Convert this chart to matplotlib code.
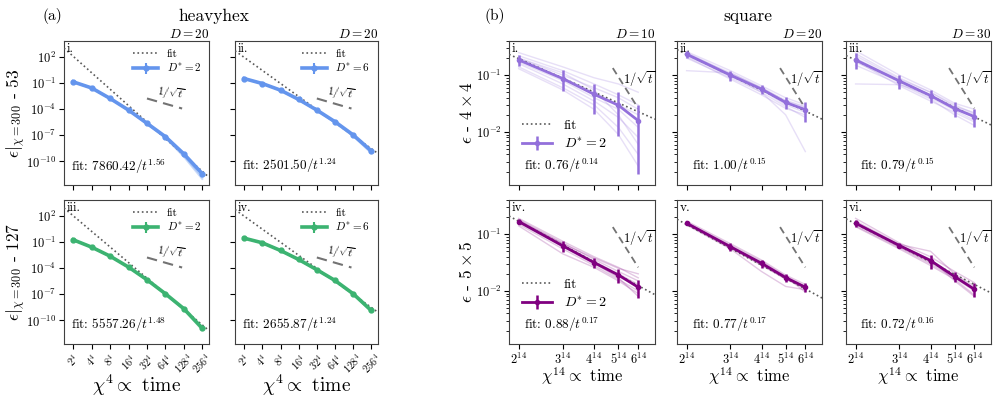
import numpy as np
import matplotlib.pyplot as plt
from matplotlib.ticker import FixedLocator, NullLocator, NullFormatter, LogLocator

plt.rcParams['font.family'] = 'serif'
plt.rcParams['font.serif'] = ['cmr10']
plt.rcParams['mathtext.fontset'] = 'cm'
plt.rcParams['axes.formatter.use_mathtext'] = True
plt.rcParams['axes.edgecolor'] = '0.25'

# ---- heavyhex data (log10 of error) ----
chi_hh = [2, 4, 8, 16, 32, 64, 128, 256]
hh_tick_labels = [r'$2^4$', r'$4^4$', r'$8^4$', r'$16^4$', r'$32^4$', r'$64^4$', r'$128^4$', r'$256^4$']

hh53_D2 = [-0.9, -1.6, -2.8, -4.13, -5.64, -7.17, -9.14, -11.4]
hh53_D6 = [-0.52, -1.09, -1.85, -2.91, -4.13, -5.46, -6.97, -8.8]
hh127_D2 = [-0.78, -1.62, -2.65, -3.9, -5.35, -6.95, -8.66, -10.88]
hh127_D6 = [-0.59, -1.12, -2.0, -3.03, -4.2, -5.43, -6.95, -8.86]

# a few individual runs (faint)
hh53_D2_runs = [[-0.9, -1.6, -2.8, -4.13, -5.66, -7.22, -9.3, -11.75],
                [-0.9, -1.6, -2.81, -4.15, -5.7, -7.3, -9.45, -12.0]]
hh53_D6_runs = [[-0.52, -1.09, -1.85, -2.92, -4.15, -5.5, -7.05, -8.95],
                [-0.52, -1.09, -1.86, -2.93, -4.17, -5.53, -7.1, -9.05]]
hh127_D2_runs = [[-0.78, -1.62, -2.65, -3.91, -5.37, -6.98, -8.72, -11.0],
                 [-0.78, -1.62, -2.66, -3.92, -5.38, -7.0, -8.76, -11.1]]
hh127_D6_runs = [[-0.59, -1.12, -2.0, -3.04, -4.22, -5.46, -7.0, -8.95],
                 [-0.59, -1.12, -2.01, -3.05, -4.23, -5.48, -7.03, -9.02]]

hh_fit_A = [7860.42, 2501.50, 5557.26, 2655.87]
hh_fit_b = [1.56, 1.24, 1.48, 1.24]

# ---- square data ----
chi_sq = [2, 3, 4, 5, 6]
sq_tick_labels = [r'$2^{14}$', r'$3^{14}$', r'$4^{14}$', r'$5^{14}$', r'$6^{14}$']

sq4_D10 = [0.186, 0.087, 0.046, 0.0295, 0.0158]
sq4_D10_err = [0.04, 0.034, 0.025, 0.021, 0.014]
sq4_D20 = [0.234, 0.100, 0.0567, 0.033, 0.0247]
sq4_D20_err = [0.03, 0.02, 0.01, 0.008, 0.0095]
sq4_D30 = [0.186, 0.079, 0.0437, 0.0258, 0.0186]
sq4_D30_err = [0.058, 0.023, 0.012, 0.0075, 0.0064]
sq5_D10 = [0.167, 0.0622, 0.0316, 0.0191, 0.0116]
sq5_D10_err = [0.015, 0.014, 0.0064, 0.0055, 0.0041]
sq5_D20 = [0.156, 0.060, 0.0307, 0.0172, 0.0116]
sq5_D20_err = [0.01, 0.009, 0.005, 0.0028, 0.002]
sq5_D30 = [0.156, 0.063, 0.0343, 0.0179, 0.0107]
sq5_D30_err = [0.02, 0.006, 0.0095, 0.0035, 0.003]

sq4_D10_runs = [[0.25, 0.14, 0.09, 0.07, 0.05],
                [0.22, 0.12, 0.07, 0.045, 0.03],
                [0.20, 0.10, 0.06, 0.04, 0.025],
                [0.18, 0.09, 0.05, 0.03, 0.02],
                [0.17, 0.08, 0.04, 0.025, 0.012],
                [0.16, 0.07, 0.035, 0.018, 0.008],
                [0.14, 0.06, 0.03, 0.012, 0.004],
                [0.13, 0.055, 0.025, 0.009, 0.0025],
                [0.20, 0.11, 0.055, 0.02, 0.006]]
sq4_D20_runs = [[0.26, 0.12, 0.065, 0.04, 0.03],
                [0.24, 0.11, 0.06, 0.036, 0.028],
                [0.22, 0.095, 0.055, 0.03, 0.022],
                [0.20, 0.09, 0.05, 0.028, 0.018],
                [0.12, 0.11, 0.06, 0.035, 0.027],
                [0.23, 0.10, 0.05, 0.02, 0.0045],
                [0.25, 0.105, 0.058, 0.033, 0.024],
                [0.21, 0.085, 0.045, 0.026, 0.02]]
sq4_D30_runs = [[0.27, 0.10, 0.055, 0.032, 0.025],
                [0.24, 0.09, 0.05, 0.028, 0.022],
                [0.20, 0.08, 0.045, 0.026, 0.018],
                [0.17, 0.075, 0.04, 0.024, 0.016],
                [0.07, 0.068, 0.045, 0.027, 0.02],
                [0.15, 0.07, 0.038, 0.02, 0.013],
                [0.22, 0.085, 0.05, 0.03, 0.021],
                [0.18, 0.065, 0.035, 0.022, 0.015]]
sq5_D10_runs = [[0.19, 0.075, 0.04, 0.026, 0.017],
                [0.18, 0.07, 0.036, 0.022, 0.015],
                [0.17, 0.065, 0.033, 0.02, 0.013],
                [0.16, 0.06, 0.03, 0.018, 0.012],
                [0.15, 0.055, 0.028, 0.016, 0.01],
                [0.14, 0.045, 0.026, 0.015, 0.009],
                [0.175, 0.068, 0.038, 0.025, 0.02],
                [0.165, 0.062, 0.031, 0.017, 0.008]]
sq5_D20_runs = [[0.17, 0.068, 0.035, 0.019, 0.013],
                [0.16, 0.064, 0.033, 0.018, 0.012],
                [0.155, 0.06, 0.031, 0.017, 0.0115],
                [0.15, 0.057, 0.029, 0.016, 0.011],
                [0.145, 0.055, 0.022, 0.012, 0.0105],
                [0.158, 0.062, 0.03, 0.018, 0.0095],
                [0.162, 0.058, 0.028, 0.0165, 0.012]]
sq5_D30_runs = [[0.19, 0.07, 0.04, 0.022, 0.014],
                [0.17, 0.066, 0.05, 0.02, 0.012],
                [0.16, 0.063, 0.035, 0.019, 0.011],
                [0.15, 0.06, 0.032, 0.018, 0.0105],
                [0.14, 0.058, 0.03, 0.017, 0.01],
                [0.135, 0.055, 0.028, 0.016, 0.0085],
                [0.155, 0.065, 0.036, 0.015, 0.008]]

sq_fit_A = [0.76, 1.00, 0.79, 0.88, 0.77, 0.72]
sq_fit_b = [0.14, 0.15, 0.15, 0.17, 0.17, 0.16]

W, H = 997, 397
fig = plt.figure(figsize=(W / 100, H / 100), dpi=100)


def box(x0, y0, x1, y1):
    return [x0 / W, 1 - y1 / H, (x1 - x0) / W, (y1 - y0) / H]


def heavyhex_panel(rect, logs, runs, A, b, color, dstar, tag, title, bottom, first):
    ax = fig.add_axes(rect)
    x = np.array(chi_hh, dtype=float)
    xl = (1.41, 330)
    xf = np.geomspace(xl[0], xl[1], 60)
    ax.plot(xf, A / (xf ** 4) ** b, ls=':', color='0.35', lw=1.2, label='fit', zorder=3)
    for r in runs:
        ax.plot(x, 10.0 ** np.array(r), color=color, alpha=0.35, lw=1.5)
    y = 10.0 ** np.array(logs)
    ax.errorbar(x, y, yerr=0.4 * y, color=color, lw=2.6, marker='o', ms=3.5,
                elinewidth=1.5, capsize=0, label=r'$D^{*}=%d$' % dstar, zorder=4)
    # 1/sqrt(t) guide
    xs = np.array([32, 120.0])
    ax.plot(xs, 10 ** -2.8 * (32 / xs) ** 2, ls='--', color='0.45', lw=1.5, dashes=(5, 3))
    ax.text(80, 10 ** -2.25, r'$1/\sqrt{t}$', fontsize=8, ha='center', va='center', rotation=-8)
    ax.set_xscale('log')
    ax.set_yscale('log')
    ax.set_xlim(*xl)
    ax.set_ylim(2e-13, 6e3)
    ax.xaxis.set_major_locator(FixedLocator(chi_hh))
    ax.xaxis.set_minor_locator(NullLocator())
    ax.yaxis.set_major_locator(FixedLocator([1e2, 1e-1, 1e-4, 1e-7, 1e-10]))
    ax.yaxis.set_minor_locator(NullLocator())
    ax.tick_params(labelsize=9, length=3.5, pad=2)
    if bottom:
        ax.set_xticklabels(hh_tick_labels, rotation=45, fontsize=7.5)
        ax.set_xlabel(r'$\chi^4 \propto$ time', fontsize=14, va='top')
        ax.xaxis.set_label_coords(0.5, -0.2)
    else:
        ax.xaxis.set_major_formatter(NullFormatter())
    if not first:
        ax.yaxis.set_major_formatter(NullFormatter())
    ax.legend(loc='upper right', fontsize=8, frameon=False, handlelength=2.2,
              borderaxespad=0.3, labelspacing=0.3)
    ax.text(0.02, 0.985, tag, transform=ax.transAxes, fontsize=9, va='top', ha='left')
    ax.text(0.05, 0.13, r'fit: $%.2f/t^{%.2f}$' % (A, b), transform=ax.transAxes,
            fontsize=9.5, va='center', ha='left')
    if title:
        ax.set_title(title, loc='right', fontsize=9.5, pad=2)
    return ax


def square_panel(rect, mean, err, runs, A, b, color, tag, title, bottom, first, legend):
    ax = fig.add_axes(rect)
    x = np.array(chi_sq, dtype=float)
    xl = (1.83, 7.0)
    xf = np.geomspace(xl[0], xl[1], 60)
    ax.plot(xf, A / (xf ** 14) ** b, ls=':', color='0.35', lw=1.2, label='fit', zorder=3)
    for r in runs:
        ax.plot(x, r, color=color, alpha=0.22, lw=1.0)
    ax.errorbar(x, mean, yerr=err, color=color, lw=2.0, marker='o', ms=3,
                elinewidth=1.8, capsize=0, label=r'$D^{*}=2$', zorder=4)
    xs = np.array([4.75, 6.0])
    ax.plot(xs, 0.026 * (6 / xs) ** 7, ls='--', color='0.45', lw=1.3, dashes=(4, 2.5))
    ax.text(5.22, 0.086, r'$1/\sqrt{t}$', fontsize=9, ha='left', va='center')
    ax.set_xscale('log')
    ax.set_yscale('log')
    ax.set_xlim(*xl)
    ax.set_ylim(1.16e-3, 0.40)
    ax.xaxis.set_major_locator(FixedLocator(chi_sq))
    ax.xaxis.set_minor_locator(NullLocator())
    ax.yaxis.set_major_locator(FixedLocator([1e-1, 1e-2]))
    ax.yaxis.set_minor_locator(LogLocator(base=10, subs=np.arange(2, 10)))
    ax.yaxis.set_minor_formatter(NullFormatter())
    ax.tick_params(labelsize=9, length=3.5, pad=2)
    ax.tick_params(which='minor', length=2)
    if bottom:
        ax.set_xticklabels(sq_tick_labels, fontsize=9)
        ax.set_xlabel(r'$\chi^{14} \propto$ time', fontsize=12, va='top')
        ax.xaxis.set_label_coords(0.5, -0.15)
    else:
        ax.xaxis.set_major_formatter(NullFormatter())
    if not first:
        ax.yaxis.set_major_formatter(NullFormatter())
    if legend:
        ax.legend(loc='lower left', bbox_to_anchor=(0.05, 0.2), fontsize=10, frameon=False,
                  handlelength=2.2, borderaxespad=0.0, labelspacing=0.3)
    ax.text(0.02, 0.985, tag, transform=ax.transAxes, fontsize=9.5, va='top', ha='left')
    ax.text(0.1, 0.135, r'fit: $%.2f/t^{%.2f}$' % (A, b), transform=ax.transAxes,
            fontsize=9.5, va='center', ha='left')
    if title:
        ax.set_title(title, loc='right', fontsize=9.5, pad=2)
    return ax


blue = 'cornflowerblue'
green = 'mediumseagreen'

a1 = heavyhex_panel(box(64, 41, 209, 185), hh53_D2, hh53_D2_runs, hh_fit_A[0], hh_fit_b[0],
                    blue, 2, 'i.', r'$D=20$', False, True)
a1.set_ylabel(r'$\epsilon|_{\chi=300}$ - 53', fontsize=12.5)
a1.yaxis.set_label_coords(-0.25, 0.5)
heavyhex_panel(box(235, 41, 378, 185), hh53_D6, hh53_D6_runs, hh_fit_A[1], hh_fit_b[1],
               blue, 6, 'ii.', r'$D=20$', False, False)
a3 = heavyhex_panel(box(64, 200, 209, 344), hh127_D2, hh127_D2_runs, hh_fit_A[2], hh_fit_b[2],
                    green, 2, 'iii.', None, True, True)
a3.set_ylabel(r'$\epsilon|_{\chi=300}$ - 127', fontsize=12.5)
a3.yaxis.set_label_coords(-0.25, 0.5)
heavyhex_panel(box(235, 200, 378, 344), hh127_D6, hh127_D6_runs, hh_fit_A[3], hh_fit_b[3],
               green, 6, 'iv.', None, True, False)

purple_l = 'mediumpurple'
purple_d = 'purple'
b1 = square_panel(box(509, 41, 655, 185), sq4_D10, sq4_D10_err, sq4_D10_runs, sq_fit_A[0], sq_fit_b[0],
                  purple_l, 'i.', r'$D=10$', False, True, True)
b1.set_ylabel(r'$\epsilon$ - $4\times 4$', fontsize=12.5)
b1.yaxis.set_label_coords(-0.23, 0.5)
square_panel(box(677, 41, 822, 185), sq4_D20, sq4_D20_err, sq4_D20_runs, sq_fit_A[1], sq_fit_b[1],
             purple_l, 'ii.', r'$D=20$', False, False, False)
square_panel(box(846, 41, 991, 185), sq4_D30, sq4_D30_err, sq4_D30_runs, sq_fit_A[2], sq_fit_b[2],
             purple_l, 'iii.', r'$D=30$', False, False, False)
b4 = square_panel(box(509, 200, 655, 344), sq5_D10, sq5_D10_err, sq5_D10_runs, sq_fit_A[3], sq_fit_b[3],
                  purple_d, 'iv.', None, True, True, True)
b4.set_ylabel(r'$\epsilon$ - $5\times 5$', fontsize=12.5)
b4.yaxis.set_label_coords(-0.23, 0.5)
square_panel(box(677, 200, 822, 344), sq5_D20, sq5_D20_err, sq5_D20_runs, sq_fit_A[4], sq_fit_b[4],
             purple_d, 'v.', None, True, False, False)
square_panel(box(846, 200, 991, 344), sq5_D30, sq5_D30_err, sq5_D30_runs, sq_fit_A[5], sq_fit_b[5],
             purple_d, 'vi.', None, True, False, False)

fig.text(52 / W, 1 - 16 / H, '(a)', fontsize=11, ha='center', va='center')
fig.text(214 / W, 1 - 16 / H, 'heavyhex', fontsize=12.5, ha='center', va='center')
fig.text(495 / W, 1 - 16 / H, '(b)', fontsize=11, ha='center', va='center')
fig.text(748 / W, 1 - 16 / H, 'square', fontsize=12.5, ha='center', va='center')

fig.savefig('out.png', dpi=100)
